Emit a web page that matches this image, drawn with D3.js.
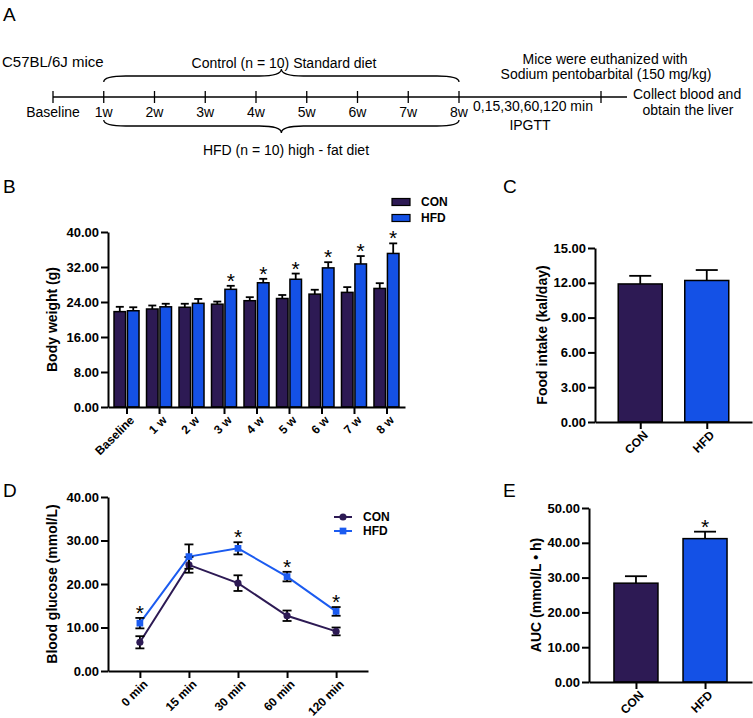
<!DOCTYPE html>
<html>
<head>
<meta charset="utf-8">
<script src="https://cdn.jsdelivr.net/npm/d3@7"></script>
<style>
  body { margin: 0; background: #fff; }
  svg { font-family: "Liberation Sans", Arial, sans-serif; }
</style>
</head>
<body>
<svg id="fig" width="753" height="718"></svg>
<script>
// ---- data ----
const weekCats = ["Baseline", "1 w", "2 w", "3 w", "4 w", "5 w", "6 w", "7 w", "8 w"];
const bwCon = [21.8, 22.4, 22.8, 23.5, 24.3, 24.8, 25.8, 26.2, 27.1];
const bwConErr = [1.1, 0.8, 0.8, 0.6, 0.8, 0.8, 1.0, 1.2, 1.2];
const bwHfd = [22.0, 22.9, 23.7, 26.9, 28.4, 29.2, 31.8, 32.7, 35.1];
const bwHfdErr = [0.8, 0.7, 1.0, 0.8, 0.9, 1.3, 1.3, 1.8, 2.3];
const bwSig = [false, false, false, true, true, true, true, true, true];
const bwTicks = [0, 8, 16, 24, 32, 40];

const groups = ["CON", "HFD"];
const foodMean = [11.9, 12.2];
const foodErr = [0.7, 0.9];
const foodTicks = [0, 3, 6, 9, 12, 15];

const timeCats = ["0 min", "15 min", "30 min", "60 min", "120 min"];
const gluCon = [6.6, 24.4, 20.2, 12.7, 9.1];
const gluConErr = [1.4, 1.8, 1.8, 1.2, 0.9];
const gluHfd = [11.0, 26.3, 28.2, 21.7, 13.7];
const gluHfdErr = [1.2, 2.8, 1.4, 1.1, 1.0];
const gluSig = [true, false, true, true, true];
const gluTicks = [0, 10, 20, 30, 40];

const aucMean = [28.4, 41.2];
const aucErr = [2.0, 2.0];
const aucSig = [false, true];
const aucTicks = [0, 10, 20, 30, 40, 50];

const timeline = ["Baseline", "1w", "2w", "3w", "4w", "5w", "6w", "7w", "8w"];

const CON_COLOR = "#2d1a54";
const HFD_COLOR = "#1451e6";

const svg = d3.select("#fig");

// ---- helpers ----
function styleAxis(g) {
  g.select(".domain").attr("stroke", "#000").attr("stroke-width", 2);
  g.selectAll(".tick line").attr("stroke", "#000").attr("stroke-width", 2);
  g.selectAll(".tick text")
    .attr("fill", "#000")
    .style("font-size", "13px")
    .style("font-weight", "bold");
}

function drawYAxis(x0, y, ticks, title, titleX) {
  const g = svg.append("g").attr("transform", `translate(${x0},0)`)
    .call(d3.axisLeft(y).tickValues(ticks).tickFormat(d3.format(".2f"))
      .tickSize(7).tickSizeOuter(0).tickPadding(2));
  styleAxis(g);
  const [y0, y1] = y.range();
  svg.append("text")
    .attr("transform", `translate(${titleX},${(y0 + y1) / 2}) rotate(-90)`)
    .attr("text-anchor", "middle")
    .attr("dominant-baseline", "central")
    .style("font-size", "14px")
    .style("font-weight", "bold")
    .text(title);
}

function drawXAxis(y0, x) {
  const g = svg.append("g").attr("transform", `translate(0,${y0})`)
    .call(d3.axisBottom(x).tickSize(7).tickSizeOuter(0));
  styleAxis(g);
  g.selectAll(".tick text")
    .style("font-size", "12px")
    .attr("x", 0).attr("y", 0).attr("dy", "0.35em")
    .attr("text-anchor", "end")
    .attr("transform", "translate(5,11) rotate(-45)");
}

function errCap(g, x, yTop, yBot, half) {
  g.append("line").attr("x1", x).attr("x2", x).attr("y1", yTop).attr("y2", yBot)
    .attr("stroke", "#000").attr("stroke-width", 1.8);
  g.append("line").attr("x1", x - half).attr("x2", x + half).attr("y1", yTop).attr("y2", yTop)
    .attr("stroke", "#000").attr("stroke-width", 1.8);
}

function star(x, y) {
  svg.append("text").attr("x", x).attr("y", y + 7)
    .attr("text-anchor", "middle")
    .style("font-size", "21px")
    .text("*");
}

function panelLabel(t, x, y) {
  svg.append("text").attr("x", x).attr("y", y)
    .style("font-size", "19px")
    .text(t);
}

// ---- Panel A: timeline ----
panelLabel("A", 3, 21);
const tx = d3.scalePoint().domain(timeline).range([53, 459]);
const lineY = 97;
const gA = svg.append("g");
gA.append("line").attr("x1", tx("Baseline")).attr("x2", 627)
  .attr("y1", lineY).attr("y2", lineY).attr("stroke", "#000").attr("stroke-width", 1.3);
timeline.concat(["end"]).forEach((d) => {
  const x = d === "end" ? 601 : tx(d);
  gA.append("line").attr("x1", x).attr("x2", x).attr("y1", lineY - 6).attr("y2", lineY + 6)
    .attr("stroke", "#000").attr("stroke-width", 1.3);
});
timeline.forEach((d) => {
  gA.append("text").attr("x", tx(d)).attr("y", 117).attr("text-anchor", "middle")
    .style("font-size", "14px").text(d);
});

function brace(x1, x2, yEnd, yFlat, yCusp) {
  const mid = (x1 + x2) / 2;
  const r = 22;
  return `M${x1},${yEnd} Q${x1},${yFlat} ${x1 + r},${yFlat} L${mid - r},${yFlat} ` +
    `Q${mid},${yFlat} ${mid},${yCusp} Q${mid},${yFlat} ${mid + r},${yFlat} ` +
    `L${x2 - r},${yFlat} Q${x2},${yFlat} ${x2},${yEnd}`;
}
gA.append("path").attr("d", brace(tx("1w"), tx("8w"), 82, 76, 69))
  .attr("fill", "none").attr("stroke", "#000").attr("stroke-width", 1.3);
gA.append("path").attr("d", brace(tx("1w"), tx("8w"), 120, 126, 133))
  .attr("fill", "none").attr("stroke", "#000").attr("stroke-width", 1.3);

const aText = [
  ["C57BL/6J mice", 2, 67, "start", 15],
  ["Control (n = 10)  Standard diet", 284, 68, "middle", 14],
  ["HFD (n = 10)  high - fat diet", 286, 155, "middle", 14],
  ["0,15,30,60,120 min", 533, 111, "middle", 14],
  ["IPGTT", 530, 130, "middle", 14],
  ["Mice were euthanized with", 605, 64, "middle", 14],
  ["Sodium pentobarbital (150 mg/kg)", 606, 79, "middle", 14],
  ["Collect blood and", 633, 99, "start", 14],
  ["obtain the liver", 688, 115, "middle", 14],
];
aText.forEach(([t, x, y, a, fs]) => {
  gA.append("text").attr("x", x).attr("y", y).attr("text-anchor", a)
    .style("font-size", fs + "px").text(t);
});

// ---- Panel B: body weight ----
panelLabel("B", 3, 193);
const xB = d3.scalePoint().domain(weekCats).range([108, 405]).padding(0.57);
const xBin = d3.scaleBand().domain(groups).range([-12.5, 12.5]).paddingInner(0.14);
const yB = d3.scaleLinear().domain([0, 40]).range([407, 232]);
const gB = svg.append("g");
weekCats.forEach((c, i) => {
  [[bwCon, bwConErr, "CON", CON_COLOR], [bwHfd, bwHfdErr, "HFD", HFD_COLOR]].forEach(([m, e, grp, col]) => {
    const x = xB(c) + xBin(grp);
    const cx = x + xBin.bandwidth() / 2;
    errCap(gB, cx, yB(m[i] + e[i]), yB(m[i]), 4);
    gB.append("rect").attr("x", x).attr("y", yB(m[i]))
      .attr("width", xBin.bandwidth()).attr("height", yB(0) - yB(m[i]))
      .attr("fill", col).attr("stroke", "#000").attr("stroke-width", 1.5);
  });
  if (bwSig[i]) star(xB(c) + xBin("HFD") + xBin.bandwidth() / 2, yB(bwHfd[i] + bwHfdErr[i]) - 5);
});
drawYAxis(108, yB, bwTicks, "Body weight (g)", 52);
drawXAxis(407, xB);

// legend B
groups.forEach((g, i) => {
  const yy = 202 + i * 16;
  svg.append("rect").attr("x", 392).attr("y", yy - 3.5).attr("width", 18).attr("height", 7)
    .attr("fill", i ? HFD_COLOR : CON_COLOR).attr("stroke", "#000").attr("stroke-width", 1.2);
  svg.append("text").attr("x", 421).attr("y", yy).attr("dominant-baseline", "central")
    .style("font-size", "12px").style("font-weight", "bold").text(g);
});

// ---- bar panels C and E ----
function barPanel(axisX, rightX, y0, yTop, max, ticks, means, errs, sig, title, titleX) {
  const x = d3.scalePoint().domain(groups).range([axisX, rightX]).padding(0.68);
  const y = d3.scaleLinear().domain([0, max]).range([y0, yTop]);
  const g = svg.append("g");
  const w = 44;
  groups.forEach((grp, i) => {
    errCap(g, x(grp), y(means[i] + errs[i]), y(means[i]), 11);
    g.append("rect").attr("x", x(grp) - w / 2).attr("y", y(means[i]))
      .attr("width", w).attr("height", y(0) - y(means[i]))
      .attr("fill", i ? HFD_COLOR : CON_COLOR).attr("stroke", "#000").attr("stroke-width", 1.5);
    if (sig[i]) star(x(grp), y(means[i] + errs[i]) - 5);
  });
  drawYAxis(axisX, y, ticks, title, titleX);
  drawXAxis(y0, x);
}

panelLabel("C", 503, 193);
barPanel(595, 752, 422, 248, 15, foodTicks, foodMean, foodErr, [false, false], "Food intake (kal/day)", 542);

panelLabel("E", 503, 497);
barPanel(589, 752, 682, 508, 50, aucTicks, aucMean, aucErr, aucSig, "AUC (mmol/L \u2022 h)", 536);

// ---- Panel D: glucose ----
panelLabel("D", 3, 497);
const xD = d3.scalePoint().domain(timeCats).range([108, 368]).padding(0.65);
const yD = d3.scaleLinear().domain([0, 40]).range([671, 497]);
const gD = svg.append("g");
const series = [
  { name: "CON", m: gluCon, e: gluConErr, col: CON_COLOR, shape: d3.symbolCircle, size: 40 },
  { name: "HFD", m: gluHfd, e: gluHfdErr, col: "#1b5bf0", shape: d3.symbolSquare, size: 45 },
];
series.forEach((s) => {
  const line = d3.line().x((d, i) => xD(timeCats[i])).y((d) => yD(d));
  gD.append("path").attr("d", line(s.m)).attr("fill", "none")
    .attr("stroke", s.col).attr("stroke-width", 2);
});
series.forEach((s) => {
  s.m.forEach((v, i) => {
    const x = xD(timeCats[i]);
    gD.append("line").attr("x1", x).attr("x2", x).attr("y1", yD(v + s.e[i])).attr("y2", yD(v - s.e[i]))
      .attr("stroke", "#000").attr("stroke-width", 1.8);
    [v + s.e[i], v - s.e[i]].forEach((yy) => {
      gD.append("line").attr("x1", x - 4.5).attr("x2", x + 4.5).attr("y1", yD(yy)).attr("y2", yD(yy))
        .attr("stroke", "#000").attr("stroke-width", 1.8);
    });
    gD.append("path").attr("d", d3.symbol(s.shape, s.size)())
      .attr("transform", `translate(${x},${yD(v)})`).attr("fill", s.col);
  });
});
gluSig.forEach((sg, i) => {
  if (sg) star(xD(timeCats[i]), yD(gluHfd[i] + gluHfdErr[i]) - 5);
});
drawYAxis(108, yD, gluTicks, "Blood glucose (mmol/L)", 52);
drawXAxis(671, xD);

// legend D
series.forEach((s, i) => {
  const yy = 517 + i * 14;
  svg.append("line").attr("x1", 334).attr("x2", 352).attr("y1", yy).attr("y2", yy)
    .attr("stroke", s.col).attr("stroke-width", 2);
  svg.append("path").attr("d", d3.symbol(s.shape, s.size)())
    .attr("transform", `translate(343,${yy})`).attr("fill", s.col);
  svg.append("text").attr("x", 363).attr("y", yy).attr("dominant-baseline", "central")
    .style("font-size", "12px").style("font-weight", "bold").text(s.name);
});
</script>
</body>
</html>
